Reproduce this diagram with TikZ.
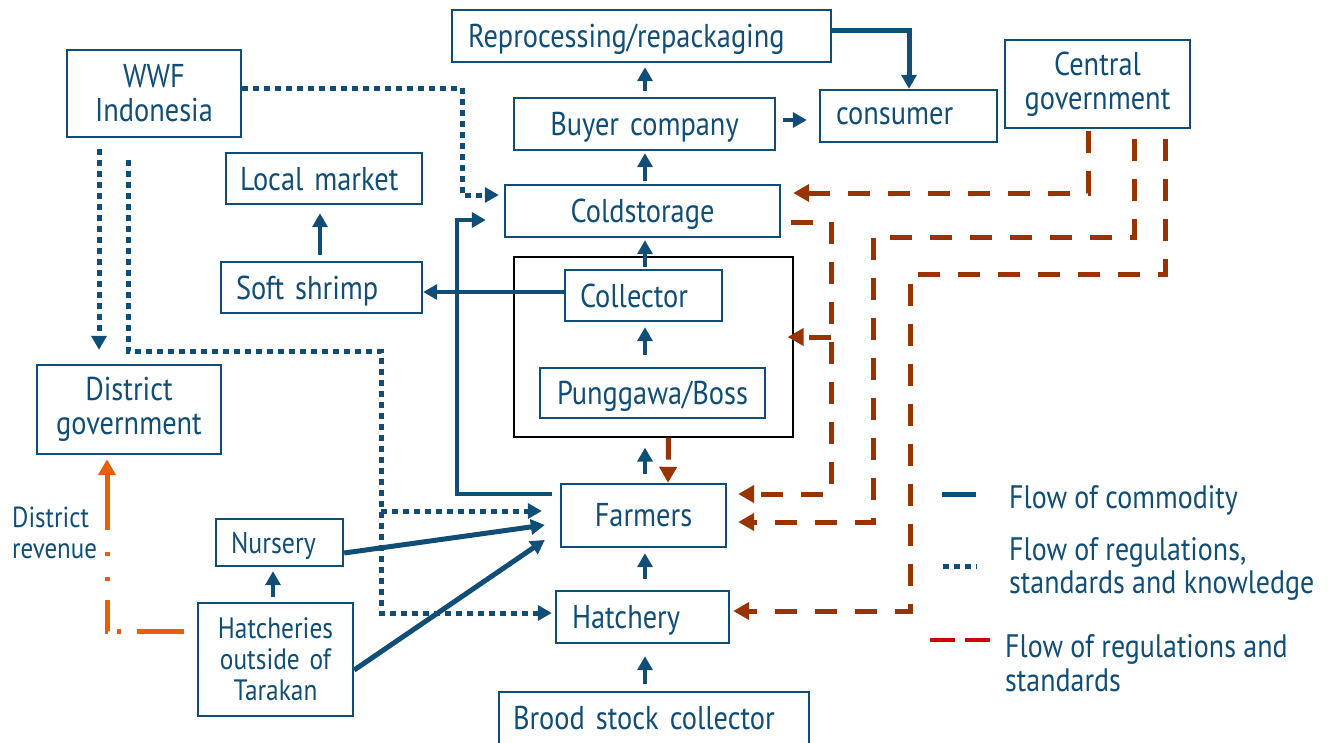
\documentclass[tikz,border=0pt]{standalone}
\usepackage{fontspec}
\setmainfont{PT Sans}[FakeStretch=0.86]
\usetikzlibrary{arrows.meta}
\definecolor{nblue}{RGB}{16,78,120}
\definecolor{nbrown}{RGB}{153,51,0}
\definecolor{norange}{RGB}{232,95,10}
\definecolor{nred}{RGB}{210,0,0}
\newcommand{\bigf}{\fontsize{33}{34}\selectfont}
\newcommand{\lgf}{\fontsize{32.5}{33.5}\selectfont}
\newcommand{\hatf}{\fontsize{29.5}{31}\selectfont}
\newcommand{\nurf}{\fontsize{30}{31}\selectfont}
\newcommand{\smallf}{\fontsize{29}{31}\selectfont}
\begin{document}
\begin{tikzpicture}[x=1pt,y=-1pt,
 box/.style={draw=nblue,line width=2.4pt,text=nblue,font=\bigf,inner ysep=0pt,inner xsep=0pt,minimum height=52pt},
 box1/.style={box,text depth=0pt},
 cflow/.style={draw=nblue,line width=4.5pt,-{Triangle[length=14pt,width=15pt]}},
 dflow/.style={draw=nblue,line width=5pt,dash pattern=on 5.5pt off 5.5pt,-{Triangle[length=14pt,width=15pt]}},
 rflow/.style={draw=nbrown,line width=5pt,dash pattern=on 22pt off 18pt,-{Triangle[length=16pt,width=17pt]}},
 oflow/.style={draw=norange,line width=5pt,-{Triangle[length=16pt,width=17pt]}},
 lgtext/.style={text=nblue,font=\lgf,anchor=west,align=left,inner sep=0pt,text depth=0pt}
 ]
\useasboundingbox[fill=white] (0,0) rectangle (1331,742);

% nodes
\node[box1,text width=347pt,inner xsep=16pt,align=left] (repro) at (641.5,36) {Reprocessing/repackaging};
\node[box1,text width=261pt,align=center] (buyer) at (644.5,124) {Buyer company};
\node[box1,text width=145pt,inner xsep=16pt,align=left] (consumer) at (908.5,116) {consumer};
\node[box,text width=185pt,align=center,minimum height=88pt] (central) at (1097.5,84) {Central\\government};
\node[box,text width=174pt,align=center,minimum height=87pt] (wwf) at (154,93.5) {WWF\\Indonesia};
\node[box1,text width=168pt,inner xsep=14pt,align=left,minimum height=51pt] (local) at (324,178.5) {Local market};
\node[box1,text width=275pt,align=center] (cold) at (642.5,211) {Coldstorage};
\node[draw=black,line width=1.3pt,minimum width=279pt,minimum height=180pt,inner sep=0pt] (bigbox) at (653.5,347) {};
\node[box1,text width=171pt,inner xsep=15pt,align=left,minimum height=51pt] (soft) at (321.5,287.5) {Soft shrimp};
\node[box1,text width=127pt,inner xsep=15pt,align=left,minimum height=51pt] (collector) at (643.5,295.5) {Collector};
\node[box1,text width=225pt,align=center,minimum height=50pt] (boss) at (652.5,393) {Punggawa/Boss};
\node[box,text width=184pt,align=center,minimum height=89pt] (district) at (129,409.5) {District\\government};
\node[box,text width=165pt,align=center,minimum height=63pt] (farmers) at (643.5,515.5) {Farmers};
\node[box1,font=\nurf,text width=97pt,inner xsep=15pt,align=left,minimum height=47pt] (nursery) at (279.5,542.5) {Nursery};
\node[box,font=\hatf,text width=155pt,align=center,minimum height=113pt] (hatcheries) at (275.5,659.5) {Hatcheries\\outside of\\Tarakan};
\node[box1,text width=141pt,inner xsep=16pt,align=left] (hatchery) at (642.5,617) {Hatchery};
\node[box1,text width=282pt,inner xsep=14pt,align=left] (brood) at (654,718) {Brood stock collector};
\node[text=nblue,font=\smallf,anchor=west,align=left,inner sep=0pt] (revenue) at (12,532.5) {District\\revenue};

% bend coordinates
\coordinate (d1) at (462,195);
\coordinate (d2) at (381,351);
\coordinate (s1) at (457,494);
\coordinate (r1) at (831,494);
\coordinate (r1b) at (831,337);
\coordinate (r2) at (873,237);
\coordinate (r3) at (910,274);

% commodity flow
\draw[cflow,line width=5pt] ([yshift=6pt]repro.east) -| ([xshift=0.5pt]consumer.north);
\draw[cflow,shorten <=6pt,shorten >=4pt] ([xshift=0.5pt]buyer.north) -- ([xshift=0.5pt]buyer.north |- repro.south);
\draw[cflow,shorten <=7pt,shorten >=12pt] ([yshift=4pt]buyer.east) -- ([yshift=4pt]buyer.east -| consumer.west);
\draw[cflow,shorten <=3pt,shorten >=2pt] ([xshift=2.5pt]cold.north) -- ([xshift=2.5pt]cold.north |- buyer.south);
\draw[cflow,shorten <=2pt,shorten >=2pt] ([xshift=1.5pt]collector.north) -- ([xshift=1.5pt]collector.north |- cold.south);
\draw[cflow,shorten <=12pt,shorten >=5pt] (boss.north -| collector.south) ++(1.5,0) -- ([xshift=1.5pt]collector.south);
\draw[cflow,shorten <=9pt,shorten >=10pt] ([xshift=1.5pt]farmers.north) -- ([xshift=1.5pt]farmers.north |- bigbox.south);
\draw[cflow,shorten <=11pt,shorten >=5pt] ([xshift=1.5pt]farmers.south |- hatchery.north) -- ([xshift=1.5pt]farmers.south);
\draw[cflow,shorten <=7pt,shorten >=12pt] ([xshift=1.5pt]farmers.south |- brood.north) -- ([xshift=1.5pt]farmers.south |- hatchery.south);
\draw[cflow,shorten <=6pt,shorten >=8pt] ([xshift=-1.5pt]soft.north) -- ([xshift=-1.5pt]soft.north |- local.south);
\draw[cflow,shorten <=5pt,shorten >=4pt] ([xshift=-6.5pt]nursery.south |- hatcheries.north) -- ([xshift=-6.5pt]nursery.south);
\draw[cflow] ([yshift=3.5pt]collector.west) -- ([yshift=3.5pt]collector.west -| soft.east);
\draw[cflow] ([xshift=-8pt]farmers.west |- s1) -- (s1) |- ([xshift=-18pt,yshift=-9pt]cold.west);
\draw[cflow,line width=5pt] ([yshift=-10.5pt]nursery.east) -- ([xshift=-15pt,yshift=-9.5pt]farmers.west);
\draw[cflow,line width=5pt] ([yshift=-10.5pt]hatcheries.east) -- ([xshift=-15pt,yshift=-24.5pt]farmers.west);

% regulations, standards and knowledge
\draw[dflow] ([yshift=5.5pt]wwf.east) -| (d1) -- ([xshift=-5pt]cold.west |- d1);
\draw[dflow,shorten >=25pt] ([xshift=-55pt,yshift=-11pt]wwf.south) -- ([xshift=-55pt,yshift=-11pt]wwf.south |- district.north);
\draw[dflow] ([xshift=-26pt,yshift=-22pt]wwf.south) |- (d2) |- ([xshift=-3pt,yshift=4pt]hatchery.west);
\draw[dflow] (d2 |- 0,511) -- ([xshift=-18pt]farmers.west |- 0,511);

% regulations and standards
\draw[rflow] ([xshift=-9.5pt,yshift=-2pt]central.south) |- ([xshift=12pt,yshift=18pt]cold.east);
\draw[rflow] ([xshift=10pt,yshift=-11pt]cold.east) -| (r1) -- ([xshift=11pt]farmers.east |- r1);
\draw[rflow] (r1b) -- ([xshift=-6pt]bigbox.east |- r1b);
\draw[rflow] ([xshift=37pt,yshift=-10pt]central.south) |- (r2) |- ([xshift=11pt,yshift=-6.5pt]farmers.east);
\draw[rflow] ([xshift=67.5pt,yshift=-10pt]central.south) |- (r3) |- ([xshift=3pt,yshift=6pt]hatchery.east);
\draw[rflow,dash pattern=on 22pt off 8pt] ([xshift=15pt]bigbox.south) -- ([xshift=24.5pt]farmers.north);

% district revenue
\draw[oflow,dash pattern=on 47pt off 16pt on 4pt off 9pt on 32pt off 19pt on 4pt off 21pt on 4pt off 22pt on 60pt off 10pt,shorten >=4pt]
  ([xshift=-13pt,yshift=28.5pt]hatcheries.west) -| ([xshift=-22pt]district.south);

% legend
\draw[nblue,line width=5pt] (942,494) -- (976,494);
\node[lgtext] (lg1) at (1009,497) {Flow of commodity};
\draw[nblue,line width=5pt,dash pattern=on 5.5pt off 5.5pt] (943,566) -- (977,566);
\node[lgtext] (lg2) at (1009,565.5) {Flow of regulations,\\standards and knowledge};
\draw[nred,line width=4.5pt] (930,640) -- (955,640);
\draw[nred,line width=4.5pt] (965,640) -- (990,640);
\node[lgtext] (lg3) at (1005,663) {Flow of regulations and\\standards};
\end{tikzpicture}
\end{document}
